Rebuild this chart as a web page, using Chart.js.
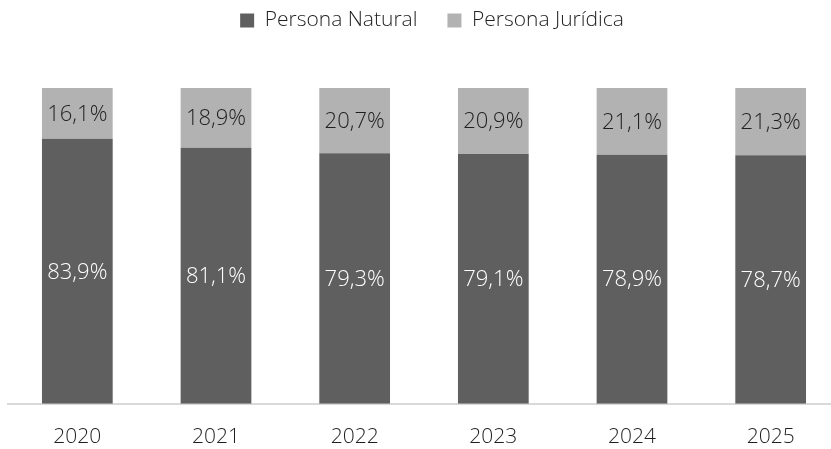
<!DOCTYPE html>
<html>
<head>
<meta charset="utf-8">
<script src="https://cdn.jsdelivr.net/npm/chart.js@4.4.1/dist/chart.umd.min.js"></script>
<style>
  html, body { margin: 0; padding: 0; background: #fff; overflow: hidden; }
  #wrap { width: 840px; height: 449px; }
</style>
</head>
<body>
<div id="wrap"><canvas id="Grafico" width="840" height="449"></canvas></div>
<script>
//Datos del gráfico
const anios = ['2020', '2021', '2022', '2023', '2024', '2025'];
const natural = [83.9, 81.1, 79.3, 79.1, 78.9, 78.7];
const juridica = [16.1, 18.9, 20.7, 20.9, 21.1, 21.3];

const fuente = "'Open Sans', 'DejaVu Sans', sans-serif";

//Etiquetas dentro de las barras
const etiquetas = {
  id: 'etiquetas',
  afterDatasetsDraw(chart) {
    const ctx = chart.ctx;
    ctx.save();
    ctx.font = '300 22px ' + fuente;
    ctx.textAlign = 'center';
    ctx.textBaseline = 'middle';
    chart.data.datasets.forEach((ds, i) => {
      chart.getDatasetMeta(i).data.forEach((bar, j) => {
        ctx.fillStyle = i === 0 ? '#ffffff' : '#1f1f1f';
        const txt = ds.data[j].toFixed(1).replace('.', ',') + '%';
        ctx.fillText(txt, bar.x, (bar.y + bar.base) / 2 + 1);
      });
    });
    ctx.restore();
  }
};

//Espacio bajo la leyenda y pequeño desplazamiento
const espacioLeyenda = {
  id: 'espacioLeyenda',
  beforeInit(chart) {
    const fitOriginal = chart.legend.fit;
    chart.legend.fit = function fit() {
      fitOriginal.bind(chart.legend)();
      this.height = 108;
    };
    const drawOriginal = chart.legend.draw;
    chart.legend.draw = function draw() {
      chart.ctx.save();
      chart.ctx.translate(8, 0);
      drawOriginal.apply(chart.legend, arguments);
      chart.ctx.restore();
    };
  }
};

const contexto = document.getElementById('Grafico').getContext('2d');
const Grafico = new Chart(contexto, {
  type: 'bar',
  data: {
    labels: anios,
    datasets: [{
      label: 'Persona Natural',
      data: natural,
      backgroundColor: '#5f5f5f',
      borderWidth: 0
    }, {
      label: 'Persona Jurídica',
      data: juridica,
      backgroundColor: '#b2b2b2',
      borderWidth: 0
    }]
  },
  options: {
    responsive: false,
    animation: false,
    layout: { padding: { left: 8, right: 0, top: -20, bottom: -22 } },
    datasets: {
      bar: { barPercentage: 0.51, categoryPercentage: 1 }
    },
    scales: {
      x: {
        stacked: true,
        grid: { display: false, drawTicks: false },
        border: { color: '#d9d9d9', width: 2 },
        ticks: { color: '#1f1f1f', padding: 21, font: { family: fuente, size: 21, weight: 300 } }
      },
      y: {
        stacked: true,
        min: 0,
        max: 100,
        display: false
      }
    },
    plugins: {
      legend: {
        position: 'top',
        align: 'center',
        labels: {
          boxWidth: 14,
          boxHeight: 14,
          padding: 30,
          color: '#1f1f1f',
          font: { family: fuente, size: 21, weight: 300 }
        }
      },
      tooltip: { enabled: false }
    }
  },
  plugins: [etiquetas, espacioLeyenda]
});
</script>
</body>
</html>
